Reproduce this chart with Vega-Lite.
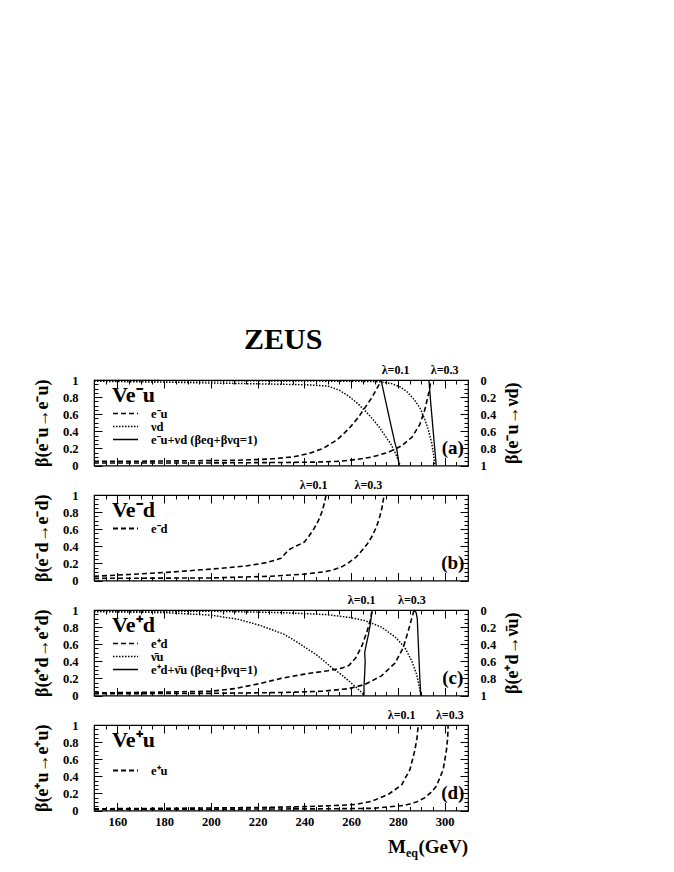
{
"$schema":"https://vega.github.io/schema/vega-lite/v6.json",
"autosize":{"type":"none"},
"padding":{"left":94,"top":380,"right":580,"bottom":492},
"background":"white",
"title":{"text":"ZEUS","font":"Liberation Serif","fontSize":30,"fontWeight":"bold","color":"black","anchor":"start","frame":"group","dx":150,"offset":8},
"config":{
 "font":"Liberation Serif",
 "view":{"stroke":"black","strokeWidth":1.2},
 "axis":{"labelFont":"Liberation Serif","labelFontWeight":"bold","labelFontSize":12.5,"labelColor":"black","titleFont":"Liberation Serif","titleFontSize":18,"titleFontWeight":"bold","titleColor":"black","domain":false,"grid":false,"tickColor":"black","tickWidth":1,"labelOverlap":false,"labelFlush":false,"labelBound":false},
 "legend":{"symbolType":"stroke","symbolSize":625,"symbolStrokeWidth":2,"symbolStrokeColor":"black","clipHeight":13,"labelOffset":12,"labelFont":"Liberation Serif","labelFontWeight":"bold","labelFontSize":12.5,"labelColor":"black","titleFont":"Liberation Serif","titleFontSize":22,"titleFontWeight":"bold","titleColor":"black","titlePadding":0,"rowPadding":0,"padding":0,"labelLimit":300,"direction":"vertical"},
 "text":{"font":"Liberation Serif","fontWeight":"bold","color":"black"},
 "line":{"color":"black"}
},
"datasets":{
"a":[
{"s":"e⁻u","l":"0.1","M":150,"b":0.05,"o":0},{"s":"e⁻u","l":"0.1","M":170,"b":0.05,"o":1},{"s":"e⁻u","l":"0.1","M":190,"b":0.055,"o":2},{"s":"e⁻u","l":"0.1","M":210,"b":0.06,"o":3},{"s":"e⁻u","l":"0.1","M":225,"b":0.075,"o":4},{"s":"e⁻u","l":"0.1","M":235,"b":0.1,"o":5},{"s":"e⁻u","l":"0.1","M":242,"b":0.14,"o":6},{"s":"e⁻u","l":"0.1","M":248,"b":0.2,"o":7},{"s":"e⁻u","l":"0.1","M":254,"b":0.3,"o":8},{"s":"e⁻u","l":"0.1","M":259,"b":0.43,"o":9},{"s":"e⁻u","l":"0.1","M":263,"b":0.56,"o":10},{"s":"e⁻u","l":"0.1","M":266,"b":0.68,"o":11},{"s":"e⁻u","l":"0.1","M":269,"b":0.8,"o":12},{"s":"e⁻u","l":"0.1","M":271,"b":0.9,"o":13},{"s":"e⁻u","l":"0.1","M":273,"b":1.0,"o":14},
{"s":"e⁻u","l":"0.3","M":150,"b":0.03,"o":0},{"s":"e⁻u","l":"0.3","M":200,"b":0.03,"o":1},{"s":"e⁻u","l":"0.3","M":230,"b":0.035,"o":2},{"s":"e⁻u","l":"0.3","M":245,"b":0.04,"o":3},{"s":"e⁻u","l":"0.3","M":255,"b":0.05,"o":4},{"s":"e⁻u","l":"0.3","M":262,"b":0.07,"o":5},{"s":"e⁻u","l":"0.3","M":269,"b":0.1,"o":6},{"s":"e⁻u","l":"0.3","M":276,"b":0.155,"o":7},{"s":"e⁻u","l":"0.3","M":281.6,"b":0.23,"o":8},{"s":"e⁻u","l":"0.3","M":286,"b":0.33,"o":9},{"s":"e⁻u","l":"0.3","M":289.4,"b":0.48,"o":10},{"s":"e⁻u","l":"0.3","M":291.6,"b":0.66,"o":11},{"s":"e⁻u","l":"0.3","M":293.3,"b":0.86,"o":12},{"s":"e⁻u","l":"0.3","M":294.2,"b":1.0,"o":13},
{"s":"νd","l":"0.1","M":150,"b":0.015,"o":0},{"s":"νd","l":"0.1","M":180,"b":0.025,"o":1},{"s":"νd","l":"0.1","M":200,"b":0.035,"o":2},{"s":"νd","l":"0.1","M":220,"b":0.045,"o":3},{"s":"νd","l":"0.1","M":240,"b":0.055,"o":4},{"s":"νd","l":"0.1","M":250,"b":0.07,"o":5},{"s":"νd","l":"0.1","M":255,"b":0.12,"o":6},{"s":"νd","l":"0.1","M":259,"b":0.19,"o":7},{"s":"νd","l":"0.1","M":263,"b":0.28,"o":8},{"s":"νd","l":"0.1","M":266,"b":0.36,"o":9},{"s":"νd","l":"0.1","M":269,"b":0.45,"o":10},{"s":"νd","l":"0.1","M":272,"b":0.55,"o":11},{"s":"νd","l":"0.1","M":275,"b":0.67,"o":12},{"s":"νd","l":"0.1","M":277,"b":0.75,"o":13},{"s":"νd","l":"0.1","M":279,"b":0.86,"o":14},{"s":"νd","l":"0.1","M":280,"b":0.93,"o":15},{"s":"νd","l":"0.1","M":281,"b":1.0,"o":16},
{"s":"νd","l":"0.3","M":150,"b":0.005,"o":0},{"s":"νd","l":"0.3","M":220,"b":0.01,"o":1},{"s":"νd","l":"0.3","M":260,"b":0.015,"o":2},{"s":"νd","l":"0.3","M":272,"b":0.02,"o":3},{"s":"νd","l":"0.3","M":277,"b":0.04,"o":4},{"s":"νd","l":"0.3","M":281,"b":0.08,"o":5},{"s":"νd","l":"0.3","M":284,"b":0.14,"o":6},{"s":"νd","l":"0.3","M":287,"b":0.23,"o":7},{"s":"νd","l":"0.3","M":289.5,"b":0.33,"o":8},{"s":"νd","l":"0.3","M":291.5,"b":0.46,"o":9},{"s":"νd","l":"0.3","M":293,"b":0.58,"o":10},{"s":"νd","l":"0.3","M":294.5,"b":0.74,"o":11},{"s":"νd","l":"0.3","M":295.3,"b":0.88,"o":12},{"s":"νd","l":"0.3","M":295.8,"b":1.0,"o":13},
{"s":"e⁻u+νd (βeq+βνq=1)","l":"0.1","M":272.8,"b":1.0,"o":0},{"s":"e⁻u+νd (βeq+βνq=1)","l":"0.1","M":274.8,"b":0.75,"o":1},{"s":"e⁻u+νd (βeq+βνq=1)","l":"0.1","M":276.8,"b":0.5,"o":2},{"s":"e⁻u+νd (βeq+βνq=1)","l":"0.1","M":278.6,"b":0.28,"o":3},{"s":"e⁻u+νd (βeq+βνq=1)","l":"0.1","M":279.6,"b":0.18,"o":4},{"s":"e⁻u+νd (βeq+βνq=1)","l":"0.1","M":280.6,"b":0,"o":5},
{"s":"e⁻u+νd (βeq+βνq=1)","l":"0.3","M":293.3,"b":1.0,"o":0},{"s":"e⁻u+νd (βeq+βνq=1)","l":"0.3","M":294.0,"b":0.75,"o":1},{"s":"e⁻u+νd (βeq+βνq=1)","l":"0.3","M":294.8,"b":0.5,"o":2},{"s":"e⁻u+νd (βeq+βνq=1)","l":"0.3","M":295.6,"b":0.25,"o":3},{"s":"e⁻u+νd (βeq+βνq=1)","l":"0.3","M":296.4,"b":0,"o":4}
],
"b":[
{"s":"e⁻d","l":"0.1","M":150,"b":0.05,"o":0},{"s":"e⁻d","l":"0.1","M":165,"b":0.07,"o":1},{"s":"e⁻d","l":"0.1","M":184,"b":0.1,"o":2},{"s":"e⁻d","l":"0.1","M":203,"b":0.14,"o":3},{"s":"e⁻d","l":"0.1","M":215,"b":0.17,"o":4},{"s":"e⁻d","l":"0.1","M":224,"b":0.21,"o":5},{"s":"e⁻d","l":"0.1","M":230,"b":0.26,"o":6},{"s":"e⁻d","l":"0.1","M":232,"b":0.32,"o":7},{"s":"e⁻d","l":"0.1","M":234,"b":0.37,"o":8},{"s":"e⁻d","l":"0.1","M":237,"b":0.41,"o":9},{"s":"e⁻d","l":"0.1","M":240,"b":0.45,"o":10},{"s":"e⁻d","l":"0.1","M":242,"b":0.52,"o":11},{"s":"e⁻d","l":"0.1","M":244,"b":0.6,"o":12},{"s":"e⁻d","l":"0.1","M":246,"b":0.7,"o":13},{"s":"e⁻d","l":"0.1","M":247.5,"b":0.8,"o":14},{"s":"e⁻d","l":"0.1","M":248.5,"b":0.9,"o":15},{"s":"e⁻d","l":"0.1","M":249.3,"b":1.0,"o":16},
{"s":"e⁻d","l":"0.3","M":150,"b":0.025,"o":0},{"s":"e⁻d","l":"0.3","M":200,"b":0.03,"o":1},{"s":"e⁻d","l":"0.3","M":226,"b":0.05,"o":2},{"s":"e⁻d","l":"0.3","M":240,"b":0.075,"o":3},{"s":"e⁻d","l":"0.3","M":248,"b":0.1,"o":4},{"s":"e⁻d","l":"0.3","M":252,"b":0.12,"o":5},{"s":"e⁻d","l":"0.3","M":256,"b":0.16,"o":6},{"s":"e⁻d","l":"0.3","M":259,"b":0.21,"o":7},{"s":"e⁻d","l":"0.3","M":262,"b":0.27,"o":8},{"s":"e⁻d","l":"0.3","M":264.6,"b":0.35,"o":9},{"s":"e⁻d","l":"0.3","M":267,"b":0.43,"o":10},{"s":"e⁻d","l":"0.3","M":269,"b":0.52,"o":11},{"s":"e⁻d","l":"0.3","M":270.7,"b":0.62,"o":12},{"s":"e⁻d","l":"0.3","M":272,"b":0.72,"o":13},{"s":"e⁻d","l":"0.3","M":273.2,"b":0.85,"o":14},{"s":"e⁻d","l":"0.3","M":274.1,"b":1.0,"o":15}
],
"c":[
{"s":"e⁺d","l":"0.1","M":150,"b":0.03,"o":0},{"s":"e⁺d","l":"0.1","M":180,"b":0.04,"o":1},{"s":"e⁺d","l":"0.1","M":200,"b":0.05,"o":2},{"s":"e⁺d","l":"0.1","M":210,"b":0.08,"o":3},{"s":"e⁺d","l":"0.1","M":221,"b":0.14,"o":4},{"s":"e⁺d","l":"0.1","M":230,"b":0.2,"o":5},{"s":"e⁺d","l":"0.1","M":240,"b":0.25,"o":6},{"s":"e⁺d","l":"0.1","M":250,"b":0.29,"o":7},{"s":"e⁺d","l":"0.1","M":256,"b":0.32,"o":8},{"s":"e⁺d","l":"0.1","M":259,"b":0.35,"o":9},{"s":"e⁺d","l":"0.1","M":262,"b":0.44,"o":10},{"s":"e⁺d","l":"0.1","M":264.6,"b":0.58,"o":11},{"s":"e⁺d","l":"0.1","M":266.7,"b":0.74,"o":12},{"s":"e⁺d","l":"0.1","M":268.2,"b":0.88,"o":13},{"s":"e⁺d","l":"0.1","M":269,"b":1.0,"o":14},
{"s":"e⁺d","l":"0.3","M":150,"b":0.02,"o":0},{"s":"e⁺d","l":"0.3","M":200,"b":0.025,"o":1},{"s":"e⁺d","l":"0.3","M":230,"b":0.035,"o":2},{"s":"e⁺d","l":"0.3","M":247.6,"b":0.05,"o":3},{"s":"e⁺d","l":"0.3","M":259,"b":0.08,"o":4},{"s":"e⁺d","l":"0.3","M":266,"b":0.13,"o":5},{"s":"e⁺d","l":"0.3","M":273,"b":0.23,"o":6},{"s":"e⁺d","l":"0.3","M":278.8,"b":0.38,"o":7},{"s":"e⁺d","l":"0.3","M":282.3,"b":0.56,"o":8},{"s":"e⁺d","l":"0.3","M":284.5,"b":0.76,"o":9},{"s":"e⁺d","l":"0.3","M":286.2,"b":0.93,"o":10},{"s":"e⁺d","l":"0.3","M":287,"b":1.0,"o":11},
{"s":"ν̄u","l":"0.1","M":150,"b":0.02,"o":0},{"s":"ν̄u","l":"0.1","M":180,"b":0.03,"o":1},{"s":"ν̄u","l":"0.1","M":200,"b":0.06,"o":2},{"s":"ν̄u","l":"0.1","M":212,"b":0.11,"o":3},{"s":"ν̄u","l":"0.1","M":221,"b":0.18,"o":4},{"s":"ν̄u","l":"0.1","M":226,"b":0.23,"o":5},{"s":"ν̄u","l":"0.1","M":231,"b":0.28,"o":6},{"s":"ν̄u","l":"0.1","M":236,"b":0.36,"o":7},{"s":"ν̄u","l":"0.1","M":241,"b":0.45,"o":8},{"s":"ν̄u","l":"0.1","M":245,"b":0.52,"o":9},{"s":"ν̄u","l":"0.1","M":249,"b":0.61,"o":10},{"s":"ν̄u","l":"0.1","M":252,"b":0.68,"o":11},{"s":"ν̄u","l":"0.1","M":256,"b":0.76,"o":12},{"s":"ν̄u","l":"0.1","M":259,"b":0.83,"o":13},{"s":"ν̄u","l":"0.1","M":262,"b":0.9,"o":14},{"s":"ν̄u","l":"0.1","M":264,"b":0.95,"o":15},{"s":"ν̄u","l":"0.1","M":265.5,"b":1.0,"o":16},
{"s":"ν̄u","l":"0.3","M":150,"b":0.01,"o":0},{"s":"ν̄u","l":"0.3","M":200,"b":0.015,"o":1},{"s":"ν̄u","l":"0.3","M":230,"b":0.03,"o":2},{"s":"ν̄u","l":"0.3","M":250,"b":0.055,"o":3},{"s":"ν̄u","l":"0.3","M":260,"b":0.09,"o":4},{"s":"ν̄u","l":"0.3","M":266,"b":0.125,"o":5},{"s":"ν̄u","l":"0.3","M":273,"b":0.2,"o":6},{"s":"ν̄u","l":"0.3","M":279,"b":0.32,"o":7},{"s":"ν̄u","l":"0.3","M":283,"b":0.44,"o":8},{"s":"ν̄u","l":"0.3","M":286,"b":0.6,"o":9},{"s":"ν̄u","l":"0.3","M":288,"b":0.75,"o":10},{"s":"ν̄u","l":"0.3","M":289.1,"b":0.89,"o":11},{"s":"ν̄u","l":"0.3","M":289.8,"b":1.0,"o":12},
{"s":"e⁺d+ν̄u (βeq+βνq=1)","l":"0.1","M":269.0,"b":1.0,"o":0},{"s":"e⁺d+ν̄u (βeq+βνq=1)","l":"0.1","M":268.3,"b":0.85,"o":1},{"s":"e⁺d+ν̄u (βeq+βνq=1)","l":"0.1","M":267.4,"b":0.71,"o":2},{"s":"e⁺d+ν̄u (βeq+βνq=1)","l":"0.1","M":266.5,"b":0.6,"o":3},{"s":"e⁺d+ν̄u (βeq+βνq=1)","l":"0.1","M":265.8,"b":0.5,"o":4},{"s":"e⁺d+ν̄u (βeq+βνq=1)","l":"0.1","M":266.0,"b":0.4,"o":5},{"s":"e⁺d+ν̄u (βeq+βνq=1)","l":"0.1","M":265.8,"b":0.25,"o":6},{"s":"e⁺d+ν̄u (βeq+βνq=1)","l":"0.1","M":265.5,"b":0.1,"o":7},{"s":"e⁺d+ν̄u (βeq+βνq=1)","l":"0.1","M":265.5,"b":0,"o":8},
{"s":"e⁺d+ν̄u (βeq+βνq=1)","l":"0.3","M":287.0,"b":1.0,"o":0},{"s":"e⁺d+ν̄u (βeq+βνq=1)","l":"0.3","M":287.8,"b":0.97,"o":1},{"s":"e⁺d+ν̄u (βeq+βνq=1)","l":"0.3","M":288.3,"b":0.9,"o":2},{"s":"e⁺d+ν̄u (βeq+βνq=1)","l":"0.3","M":288.6,"b":0.7,"o":3},{"s":"e⁺d+ν̄u (βeq+βνq=1)","l":"0.3","M":289.0,"b":0.45,"o":4},{"s":"e⁺d+ν̄u (βeq+βνq=1)","l":"0.3","M":289.4,"b":0.2,"o":5},{"s":"e⁺d+ν̄u (βeq+βνq=1)","l":"0.3","M":289.8,"b":0,"o":6}
],
"d":[
{"s":"e⁺u","l":"0.1","M":150,"b":0.02,"o":0},{"s":"e⁺u","l":"0.1","M":180,"b":0.025,"o":1},{"s":"e⁺u","l":"0.1","M":200,"b":0.03,"o":2},{"s":"e⁺u","l":"0.1","M":220,"b":0.035,"o":3},{"s":"e⁺u","l":"0.1","M":240,"b":0.045,"o":4},{"s":"e⁺u","l":"0.1","M":255,"b":0.06,"o":5},{"s":"e⁺u","l":"0.1","M":262,"b":0.07,"o":6},{"s":"e⁺u","l":"0.1","M":269,"b":0.11,"o":7},{"s":"e⁺u","l":"0.1","M":276,"b":0.19,"o":8},{"s":"e⁺u","l":"0.1","M":281.6,"b":0.3,"o":9},{"s":"e⁺u","l":"0.1","M":285.2,"b":0.48,"o":10},{"s":"e⁺u","l":"0.1","M":287.3,"b":0.71,"o":11},{"s":"e⁺u","l":"0.1","M":288.2,"b":0.85,"o":12},{"s":"e⁺u","l":"0.1","M":288.7,"b":1.0,"o":13},
{"s":"e⁺u","l":"0.3","M":150,"b":0.015,"o":0},{"s":"e⁺u","l":"0.3","M":200,"b":0.015,"o":1},{"s":"e⁺u","l":"0.3","M":250,"b":0.02,"o":2},{"s":"e⁺u","l":"0.3","M":269,"b":0.025,"o":3},{"s":"e⁺u","l":"0.3","M":283,"b":0.06,"o":4},{"s":"e⁺u","l":"0.3","M":288,"b":0.1,"o":5},{"s":"e⁺u","l":"0.3","M":291.6,"b":0.15,"o":6},{"s":"e⁺u","l":"0.3","M":294.5,"b":0.22,"o":7},{"s":"e⁺u","l":"0.3","M":296.5,"b":0.285,"o":8},{"s":"e⁺u","l":"0.3","M":299.4,"b":0.48,"o":9},{"s":"e⁺u","l":"0.3","M":300.8,"b":0.71,"o":10},{"s":"e⁺u","l":"0.3","M":301.3,"b":0.85,"o":11},{"s":"e⁺u","l":"0.3","M":301.5,"b":1.0,"o":12}
]
},
"spacing":29,
"bounds":"flush",
"resolve":{"scale":{"strokeDash":"independent","strokeWidth":"independent"},"legend":{"strokeDash":"independent"}},
"vconcat":[
{
 "width":374,"height":85.5,"data":{"name":"a"},
 "layer":[
   {"transform":[{"filter":"datum.s !== 'νd'"}],
    "mark":{"type":"line"},
    "encoding":{
     "x":{"field":"M","type":"quantitative","scale":{"domain":[150,310],"nice":false,"zero":false},"axis":{"orient":"bottom","values":[150,155,160,165,170,175,180,185,190,195,200,205,210,215,220,225,230,235,240,245,250,255,260,265,270,275,280,285,290,295,300,305,310],"tickSize":{"condition":{"test":"datum.value % 20 === 0","value":-8},"value":-4},"labels":false,"title":null}},
     "y":{"field":"b","type":"quantitative","scale":{"domain":[0,1],"nice":false,"zero":false},"axis":{"orient":"left","values":[0,0.05,0.1,0.15,0.2,0.25,0.3,0.35,0.4,0.45,0.5,0.55,0.6,0.65,0.7,0.75,0.8,0.85,0.9,0.95,1],"tickSize":{"condition":{"test":"abs(datum.value*5-round(datum.value*5))<0.001","value":-8},"value":-4},"labelExpr":"abs(datum.value*5-round(datum.value*5))<0.001 ? format(datum.value,'~g') : ''","labelPadding":24,"title":"β(e⁻u→e⁻u)","titlePadding":11}},
     "strokeDash":{"field":"s","type":"nominal","scale":{"domain":["e⁻u","νd","e⁻u+νd (βeq+βνq=1)"],"range":[[5,3],[1.5,1.5],[1,0]]},"legend":{"title":"Ve⁻u","orient":"none","legendX":18,"legendY":5}},
     "strokeWidth":{"field":"s","type":"nominal","scale":{"domain":["e⁻u","νd","e⁻u+νd (βeq+βνq=1)"],"range":[1.6,1.3,2]},"legend":null},
     "detail":{"field":"l"},
     "order":{"field":"o","type":"quantitative"}
    }},
   {"transform":[{"filter":"datum.s === 'νd'"}],
    "mark":{"type":"line"},
    "encoding":{
     "x":{"field":"M","type":"quantitative","axis":{"orient":"top","values":[150,155,160,165,170,175,180,185,190,195,200,205,210,215,220,225,230,235,240,245,250,255,260,265,270,275,280,285,290,295,300,305,310],"tickSize":{"condition":{"test":"datum.value % 20 === 0","value":-8},"value":-4},"labels":false,"title":null}},
     "y":{"field":"b","type":"quantitative","scale":{"domain":[0,1],"reverse":true,"nice":false,"zero":false},"axis":{"orient":"right","values":[0,0.05,0.1,0.15,0.2,0.25,0.3,0.35,0.4,0.45,0.5,0.55,0.6,0.65,0.7,0.75,0.8,0.85,0.9,0.95,1],"tickSize":{"condition":{"test":"abs(datum.value*5-round(datum.value*5))<0.001","value":-8},"value":-4},"labelExpr":"abs(datum.value*5-round(datum.value*5))<0.001 ? format(datum.value,'~g') : ''","labelPadding":20,"title":"β(e⁻u→νd)","titleAngle":270,"titleBaseline":"top","titlePadding":8}},
     "strokeDash":{"field":"s","type":"nominal","scale":{"domain":["e⁻u","νd","e⁻u+νd (βeq+βνq=1)"],"range":[[5,3],[1.5,1.5],[1,0]]},"legend":{"title":"Ve⁻u","orient":"none","legendX":18,"legendY":5}},
     "strokeWidth":{"field":"s","type":"nominal","scale":{"domain":["e⁻u","νd","e⁻u+νd (βeq+βνq=1)"],"range":[1.6,1.3,2]},"legend":null},
     "detail":{"field":"l"},
     "order":{"field":"o","type":"quantitative"}
    }},
   {"data":{"values":[{"t":"λ=0.1","M":279},{"t":"λ=0.3","M":300}]},
    "mark":{"type":"text","fontSize":12,"baseline":"middle","dy":-10},
    "encoding":{"x":{"field":"M","type":"quantitative","axis":null},"y":{"datum":1,"scale":{"domain":[0,1]},"axis":null},"text":{"field":"t"}}},
   {"data":{"values":[{"t":"(a)"}]},
    "mark":{"type":"text","fontSize":19,"baseline":"middle"},
    "encoding":{"x":{"datum":303.5,"axis":null},"y":{"datum":0.2,"scale":{"domain":[0,1]},"axis":null},"text":{"field":"t"}}}
 ],
 "resolve":{"scale":{"y":"independent"},"axis":{"x":"independent","y":"independent"}}
},
{
 "width":374,"height":85.5,"data":{"name":"b"},
 "layer":[
   {"mark":{"type":"line"},
    "encoding":{
     "x":{"field":"M","type":"quantitative","scale":{"domain":[150,310],"nice":false,"zero":false},"axis":{"orient":"bottom","values":[150,155,160,165,170,175,180,185,190,195,200,205,210,215,220,225,230,235,240,245,250,255,260,265,270,275,280,285,290,295,300,305,310],"tickSize":{"condition":{"test":"datum.value % 20 === 0","value":-8},"value":-4},"labels":false,"title":null}},
     "y":{"field":"b","type":"quantitative","scale":{"domain":[0,1],"nice":false,"zero":false},"axis":{"orient":"left","values":[0,0.05,0.1,0.15,0.2,0.25,0.3,0.35,0.4,0.45,0.5,0.55,0.6,0.65,0.7,0.75,0.8,0.85,0.9,0.95,1],"tickSize":{"condition":{"test":"abs(datum.value*5-round(datum.value*5))<0.001","value":-8},"value":-4},"labelExpr":"abs(datum.value*5-round(datum.value*5))<0.001 ? format(datum.value,'~g') : ''","labelPadding":24,"title":"β(e⁻d→e⁻d)","titlePadding":11}},
     "strokeDash":{"field":"s","type":"nominal","scale":{"domain":["e⁻d"],"range":[[5,3]]},"legend":{"title":"Ve⁻d","orient":"none","legendX":18,"legendY":5}},
     "strokeWidth":{"value":1.6},
     "detail":{"field":"l"},
     "order":{"field":"o","type":"quantitative"}
    }},
   {"data":{"values":[{"t":"λ=0.1","M":244},{"t":"λ=0.3","M":267.4}]},
    "mark":{"type":"text","fontSize":12,"baseline":"middle","dy":-10},
    "encoding":{
     "x":{"field":"M","type":"quantitative","axis":{"orient":"top","values":[150,155,160,165,170,175,180,185,190,195,200,205,210,215,220,225,230,235,240,245,250,255,260,265,270,275,280,285,290,295,300,305,310],"tickSize":{"condition":{"test":"datum.value % 20 === 0","value":-8},"value":-4},"labels":false,"title":null}},
     "y":{"datum":1,"scale":{"domain":[0,1]},"axis":{"orient":"right","values":[0,0.05,0.1,0.15,0.2,0.25,0.3,0.35,0.4,0.45,0.5,0.55,0.6,0.65,0.7,0.75,0.8,0.85,0.9,0.95,1],"tickSize":{"condition":{"test":"abs(datum.value*5-round(datum.value*5))<0.001","value":-8},"value":-4},"labels":false,"title":null}},
     "text":{"field":"t"}}},
   {"data":{"values":[{"t":"(b)"}]},
    "mark":{"type":"text","fontSize":19,"baseline":"middle"},
    "encoding":{"x":{"datum":303.5,"axis":null},"y":{"datum":0.2,"scale":{"domain":[0,1]},"axis":null},"text":{"field":"t"}}}
 ],
 "resolve":{"scale":{"y":"independent"},"axis":{"x":"independent","y":"independent"}}
},
{
 "width":374,"height":85.5,"data":{"name":"c"},
 "layer":[
   {"transform":[{"filter":"datum.s !== 'ν̄u'"}],
    "mark":{"type":"line"},
    "encoding":{
     "x":{"field":"M","type":"quantitative","scale":{"domain":[150,310],"nice":false,"zero":false},"axis":{"orient":"bottom","values":[150,155,160,165,170,175,180,185,190,195,200,205,210,215,220,225,230,235,240,245,250,255,260,265,270,275,280,285,290,295,300,305,310],"tickSize":{"condition":{"test":"datum.value % 20 === 0","value":-8},"value":-4},"labels":false,"title":null}},
     "y":{"field":"b","type":"quantitative","scale":{"domain":[0,1],"nice":false,"zero":false},"axis":{"orient":"left","values":[0,0.05,0.1,0.15,0.2,0.25,0.3,0.35,0.4,0.45,0.5,0.55,0.6,0.65,0.7,0.75,0.8,0.85,0.9,0.95,1],"tickSize":{"condition":{"test":"abs(datum.value*5-round(datum.value*5))<0.001","value":-8},"value":-4},"labelExpr":"abs(datum.value*5-round(datum.value*5))<0.001 ? format(datum.value,'~g') : ''","labelPadding":24,"title":"β(e⁺d→e⁺d)","titlePadding":11}},
     "strokeDash":{"field":"s","type":"nominal","scale":{"domain":["e⁺d","ν̄u","e⁺d+ν̄u (βeq+βνq=1)"],"range":[[5,3],[1.5,1.5],[1,0]]},"legend":{"title":"Ve⁺d","orient":"none","legendX":18,"legendY":5}},
     "strokeWidth":{"field":"s","type":"nominal","scale":{"domain":["e⁺d","ν̄u","e⁺d+ν̄u (βeq+βνq=1)"],"range":[1.6,1.3,2]},"legend":null},
     "detail":{"field":"l"},
     "order":{"field":"o","type":"quantitative"}
    }},
   {"transform":[{"filter":"datum.s === 'ν̄u'"}],
    "mark":{"type":"line"},
    "encoding":{
     "x":{"field":"M","type":"quantitative","axis":{"orient":"top","values":[150,155,160,165,170,175,180,185,190,195,200,205,210,215,220,225,230,235,240,245,250,255,260,265,270,275,280,285,290,295,300,305,310],"tickSize":{"condition":{"test":"datum.value % 20 === 0","value":-8},"value":-4},"labels":false,"title":null}},
     "y":{"field":"b","type":"quantitative","scale":{"domain":[0,1],"reverse":true,"nice":false,"zero":false},"axis":{"orient":"right","values":[0,0.05,0.1,0.15,0.2,0.25,0.3,0.35,0.4,0.45,0.5,0.55,0.6,0.65,0.7,0.75,0.8,0.85,0.9,0.95,1],"tickSize":{"condition":{"test":"abs(datum.value*5-round(datum.value*5))<0.001","value":-8},"value":-4},"labelExpr":"abs(datum.value*5-round(datum.value*5))<0.001 ? format(datum.value,'~g') : ''","labelPadding":20,"title":"β(e⁺d→ν̄u)","titleAngle":270,"titleBaseline":"top","titlePadding":8}},
     "strokeDash":{"field":"s","type":"nominal","scale":{"domain":["e⁺d","ν̄u","e⁺d+ν̄u (βeq+βνq=1)"],"range":[[5,3],[1.5,1.5],[1,0]]},"legend":{"title":"Ve⁺d","orient":"none","legendX":18,"legendY":5}},
     "strokeWidth":{"field":"s","type":"nominal","scale":{"domain":["e⁺d","ν̄u","e⁺d+ν̄u (βeq+βνq=1)"],"range":[1.6,1.3,2]},"legend":null},
     "detail":{"field":"l"},
     "order":{"field":"o","type":"quantitative"}
    }},
   {"data":{"values":[{"t":"λ=0.1","M":264.5},{"t":"λ=0.3","M":286}]},
    "mark":{"type":"text","fontSize":12,"baseline":"middle","dy":-10},
    "encoding":{"x":{"field":"M","type":"quantitative","axis":null},"y":{"datum":1,"scale":{"domain":[0,1]},"axis":null},"text":{"field":"t"}}},
   {"data":{"values":[{"t":"(c)"}]},
    "mark":{"type":"text","fontSize":19,"baseline":"middle"},
    "encoding":{"x":{"datum":303.5,"axis":null},"y":{"datum":0.2,"scale":{"domain":[0,1]},"axis":null},"text":{"field":"t"}}}
 ],
 "resolve":{"scale":{"y":"independent"},"axis":{"x":"independent","y":"independent"}}
},
{
 "width":374,"height":85.5,"data":{"name":"d"},
 "layer":[
   {"mark":{"type":"line"},
    "encoding":{
     "x":{"field":"M","type":"quantitative","scale":{"domain":[150,310],"nice":false,"zero":false},"axis":{"orient":"bottom","values":[150,155,160,165,170,175,180,185,190,195,200,205,210,215,220,225,230,235,240,245,250,255,260,265,270,275,280,285,290,295,300,305,310],"tickSize":{"condition":{"test":"datum.value % 20 === 0","value":-8},"value":-4},"labelExpr":"datum.value % 20 === 0 ? datum.label : ''","labelPadding":13,"title":null}},
     "y":{"field":"b","type":"quantitative","scale":{"domain":[0,1],"nice":false,"zero":false},"axis":{"orient":"left","values":[0,0.05,0.1,0.15,0.2,0.25,0.3,0.35,0.4,0.45,0.5,0.55,0.6,0.65,0.7,0.75,0.8,0.85,0.9,0.95,1],"tickSize":{"condition":{"test":"abs(datum.value*5-round(datum.value*5))<0.001","value":-8},"value":-4},"labelExpr":"abs(datum.value*5-round(datum.value*5))<0.001 ? format(datum.value,'~g') : ''","labelPadding":24,"title":"β(e⁺u→e⁺u)","titlePadding":11}},
     "strokeDash":{"field":"s","type":"nominal","scale":{"domain":["e⁺u"],"range":[[5,3]]},"legend":{"title":"Ve⁺u","orient":"none","legendX":18,"legendY":5,"titlePadding":12}},
     "strokeWidth":{"value":1.6},
     "detail":{"field":"l"},
     "order":{"field":"o","type":"quantitative"}
    }},
   {"data":{"values":[{"t":"λ=0.1","M":281.6},{"t":"λ=0.3","M":302.2}]},
    "mark":{"type":"text","fontSize":12,"baseline":"middle","dy":-10},
    "encoding":{
     "x":{"field":"M","type":"quantitative","axis":{"orient":"top","values":[150,155,160,165,170,175,180,185,190,195,200,205,210,215,220,225,230,235,240,245,250,255,260,265,270,275,280,285,290,295,300,305,310],"tickSize":{"condition":{"test":"datum.value % 20 === 0","value":-8},"value":-4},"labels":false,"title":null}},
     "y":{"datum":1,"scale":{"domain":[0,1]},"axis":{"orient":"right","values":[0,0.05,0.1,0.15,0.2,0.25,0.3,0.35,0.4,0.45,0.5,0.55,0.6,0.65,0.7,0.75,0.8,0.85,0.9,0.95,1],"tickSize":{"condition":{"test":"abs(datum.value*5-round(datum.value*5))<0.001","value":-8},"value":-4},"labels":false,"title":null}},
     "text":{"field":"t"}}},
   {"data":{"values":[{"t":"(d)"}]},
    "mark":{"type":"text","fontSize":19,"baseline":"middle"},
    "encoding":{"x":{"datum":303.5,"axis":null},"y":{"datum":0.2,"scale":{"domain":[0,1]},"axis":null},"text":{"field":"t"}}},
   {"data":{"values":[{"t":"(GeV)"}]},
    "mark":{"type":"text","fontSize":19,"baseline":"alphabetic","align":"right","dy":42},
    "encoding":{"x":{"datum":310,"axis":null},"y":{"datum":0,"scale":{"domain":[0,1]},"axis":null},"text":{"field":"t"}}},
   {"data":{"values":[{"t":"eq"}]},
    "mark":{"type":"text","fontSize":12,"baseline":"alphabetic","align":"right","dy":46,"dx":-50},
    "encoding":{"x":{"datum":310,"axis":null},"y":{"datum":0,"scale":{"domain":[0,1]},"axis":null},"text":{"field":"t"}}},
   {"data":{"values":[{"t":"M"}]},
    "mark":{"type":"text","fontSize":19,"baseline":"alphabetic","align":"right","dy":42,"dx":-62},
    "encoding":{"x":{"datum":310,"axis":null},"y":{"datum":0,"scale":{"domain":[0,1]},"axis":null},"text":{"field":"t"}}}
 ],
 "resolve":{"scale":{"y":"independent"},"axis":{"x":"independent","y":"independent"}}
}
]
}
